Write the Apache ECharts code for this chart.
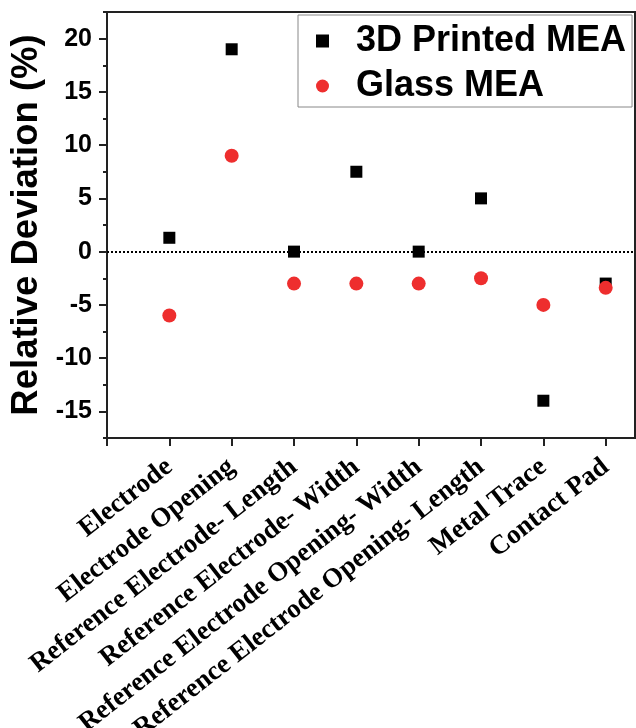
<!DOCTYPE html>
<html>
<head>
<meta charset="utf-8">
<script src="https://cdn.jsdelivr.net/npm/echarts@6/dist/echarts.min.js"></script>
<style>
html,body{margin:0;padding:0;background:#fff;}
#chart{width:636px;height:728px;}
</style>
</head>
<body>
<div id="chart"></div>
<script>
var categories = [
  "Electrode",
  "Electrode Opening",
  "Reference Electrode- Length",
  "Reference Electrode- Width",
  "Reference Electrode Opening- Width",
  "Reference Electrode Opening- Length",
  "Metal Trace",
  "Contact Pad"
];
var printedMEA = [1.3, 19, 0, 7.5, 0, 5, -14, -3];
var glassMEA = [-6, 9, -3, -3, -3, -2.5, -5, -3.4];
var yTickLabels = [-15, -10, -5, 0, 5, 10, 15, 20];
var seriesNames = ["3D Printed MEA", "Glass MEA"];

function toPoints(vals) {
  return vals.map(function (v, i) { return [i + 1, v]; });
}

var chart = echarts.init(document.getElementById('chart'), null, {renderer: 'canvas'});
var sansBold = {fontFamily: 'Liberation Sans, Arial, sans-serif', fontWeight: 'bold', color: '#000'};

chart.setOption({
  animation: false,
  backgroundColor: '#fff',
  grid: {
    left: 107, top: 12, right: 1, bottom: 290,
    containLabel: false,
    outerBoundsMode: 'none',
    show: true, borderColor: '#222', borderWidth: 2, backgroundColor: 'transparent'
  },
  legend: {
    orient: 'vertical',
    left: 298, top: 15,
    data: [
      {name: seriesNames[0], icon: 'rect'},
      {name: seriesNames[1], icon: 'circle'}
    ],
    itemWidth: 13, itemHeight: 13,
    itemGap: 5,
    padding: [6, 6, 1, 18],
    borderColor: '#888', borderWidth: 1,
    textStyle: {
      fontFamily: 'Liberation Sans, Arial, sans-serif', fontWeight: 'bold',
      fontSize: 36, color: '#000', lineHeight: 40, padding: [0, 0, 0, 22]
    }
  },
  xAxis: {
    type: 'value',
    min: 0, max: 8.47,
    interval: 1,
    splitLine: {show: false},
    axisLine: {show: true, onZero: false, lineStyle: {color: '#222', width: 2}},
    axisTick: {show: true, length: 8, inside: false, lineStyle: {color: '#222', width: 2},
      customValues: [0, 1, 2, 3, 4, 5, 6, 7, 8]},
    axisLabel: {
      customValues: [1, 2, 3, 4, 5, 6, 7, 8],
      rotate: 38,
      margin: 26,
      fontFamily: 'Liberation Serif, Times New Roman, serif',
      fontWeight: 'bold',
      fontSize: 27,
      color: '#000',
      formatter: function (v) {
        var i = Math.round(v) - 1;
        return categories[i] || '';
      }
    }
  },
  yAxis: [
    {
      type: 'value',
      min: -17.5, max: 22.5,
      name: 'Relative Deviation (%)',
      nameLocation: 'middle',
      nameGap: 58,
      nameRotate: 90,
      nameTextStyle: {fontFamily: 'Liberation Sans, Arial, sans-serif', fontWeight: 'bold', fontSize: 36.5, color: '#000'},
      splitLine: {show: false},
      axisLine: {show: true, onZero: false, lineStyle: {color: '#222', width: 2}},
      axisTick: {show: true, length: 8, lineStyle: {color: '#222', width: 2}, customValues: yTickLabels},
      axisLabel: Object.assign({customValues: yTickLabels, fontSize: 25, margin: 15}, sansBold)
    },
    {
      type: 'value',
      min: -17.5, max: 22.5, interval: 2.5,
      position: 'left',
      splitLine: {show: false},
      axisLine: {show: false},
      axisTick: {show: true, length: 4, lineStyle: {color: '#222', width: 2}},
      axisLabel: {show: false}
    }
  ],
  series: [
    {
      name: seriesNames[0],
      type: 'scatter',
      symbol: 'rect',
      symbolSize: 12,
      itemStyle: {color: '#000', opacity: 1},
      data: toPoints(printedMEA),
      z: 3,
      markLine: {
        silent: true,
        symbol: ['none', 'none'],
        label: {show: false},
        lineStyle: {type: 'dotted', color: '#000', width: 2, opacity: 1},
        data: [{yAxis: 0}],
        z: 1
      }
    },
    {
      name: seriesNames[1],
      type: 'scatter',
      symbol: 'circle',
      symbolSize: 14,
      itemStyle: {color: '#ee2e2e', opacity: 1},
      data: toPoints(glassMEA),
      z: 4
    }
  ]
});
</script>
</body>
</html>
